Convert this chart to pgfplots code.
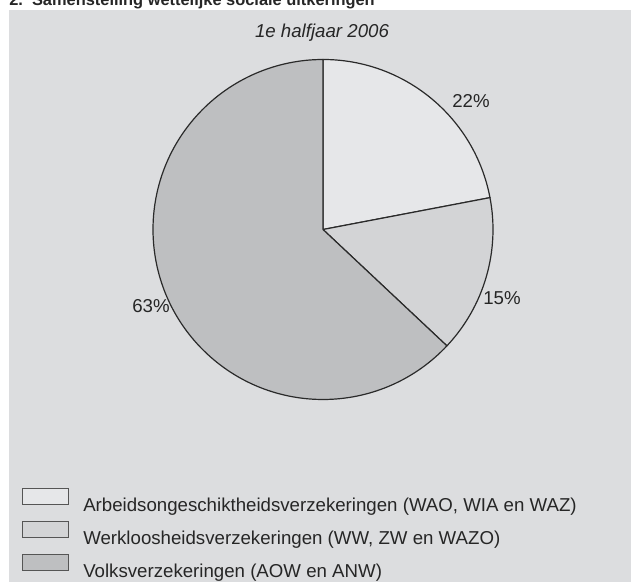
\documentclass[border=0pt]{standalone}
\usepackage{fontspec}
\setmainfont{Liberation Sans}
\usepackage{pgfplots}
\pgfplotsset{compat=1.18}
\definecolor{panel}{HTML}{DCDDDF}
\definecolor{sliceA}{HTML}{E6E7E9}
\definecolor{sliceB}{HTML}{D3D4D6}
\definecolor{sliceC}{HTML}{BEBFC1}
\definecolor{edge}{HTML}{2A2A2A}
\begin{document}
\begin{tikzpicture}[x=0.75pt,y=0.75pt]
\useasboundingbox (0,0) rectangle (631,588);
\clip (0,0) rectangle (631,588);
\fill[white] (0,0) rectangle (631,588);
\fill[panel] (9,6) rectangle (631,578);
\node[anchor=base west, inner sep=0pt, font=\bfseries\fontsize{12.3}{15}\selectfont, text=black!85] at (9,582) {2.\ \ Samenstelling wettelijke sociale uitkeringen};
\begin{axis}[at={(0,0)}, anchor=south west, width=473.25pt, height=441pt,
  scale only axis, xmin=0, xmax=631, ymin=0, ymax=588, hide axis, clip=false]
\pgfplotsextra{
  \gdef\curang{90}
  \foreach \v/\c in {22/sliceA,15/sliceB,63/sliceC}{
    \pgfmathsetmacro\endang{\curang-3.6*\v}
    \filldraw[fill=\c, draw=edge, line width=0.9pt, line join=round]
      (axis cs:323,358.5) -- (axis cs:{323+170*cos(\curang)},{358.5+170*sin(\curang)})
      arc[start angle=\curang, end angle=\endang, radius=127.5pt] -- cycle;
    \xdef\curang{\endang}
  }
  % legend boxes
  \foreach \i/\c in {0/sliceA,1/sliceB,2/sliceC}{
    \filldraw[fill=\c, draw=edge!80, line width=0.7pt]
      (axis cs:22,{100-33*\i}) rectangle (axis cs:68,{84-33*\i});
  }
}
\node[anchor=base, font=\fontsize{14}{17}\selectfont, text=black!85] at (axis cs:471,480) {22\%};
\node[anchor=base, font=\fontsize{14}{17}\selectfont, text=black!85] at (axis cs:502,283) {15\%};
\node[anchor=base, font=\fontsize{14}{17}\selectfont, text=black!85] at (axis cs:151,275) {63\%};
\node[anchor=base, font=\itshape\fontsize{14}{17}\selectfont, text=black!85] at (axis cs:322,550) {1e halfjaar 2006};
\node[anchor=base west, inner sep=0pt, font=\fontsize{14}{17}\selectfont, text=black!85] at (axis cs:83,76) {Arbeidsongeschiktheidsverzekeringen (WAO, WIA en WAZ)};
\node[anchor=base west, inner sep=0pt, font=\fontsize{14}{17}\selectfont, text=black!85] at (axis cs:83,43) {Werkloosheidsverzekeringen (WW, ZW en WAZO)};
\node[anchor=base west, inner sep=0pt, font=\fontsize{14}{17}\selectfont, text=black!85] at (axis cs:83,10) {Volksverzekeringen (AOW en ANW)};
\end{axis}
\end{tikzpicture}
\end{document}
